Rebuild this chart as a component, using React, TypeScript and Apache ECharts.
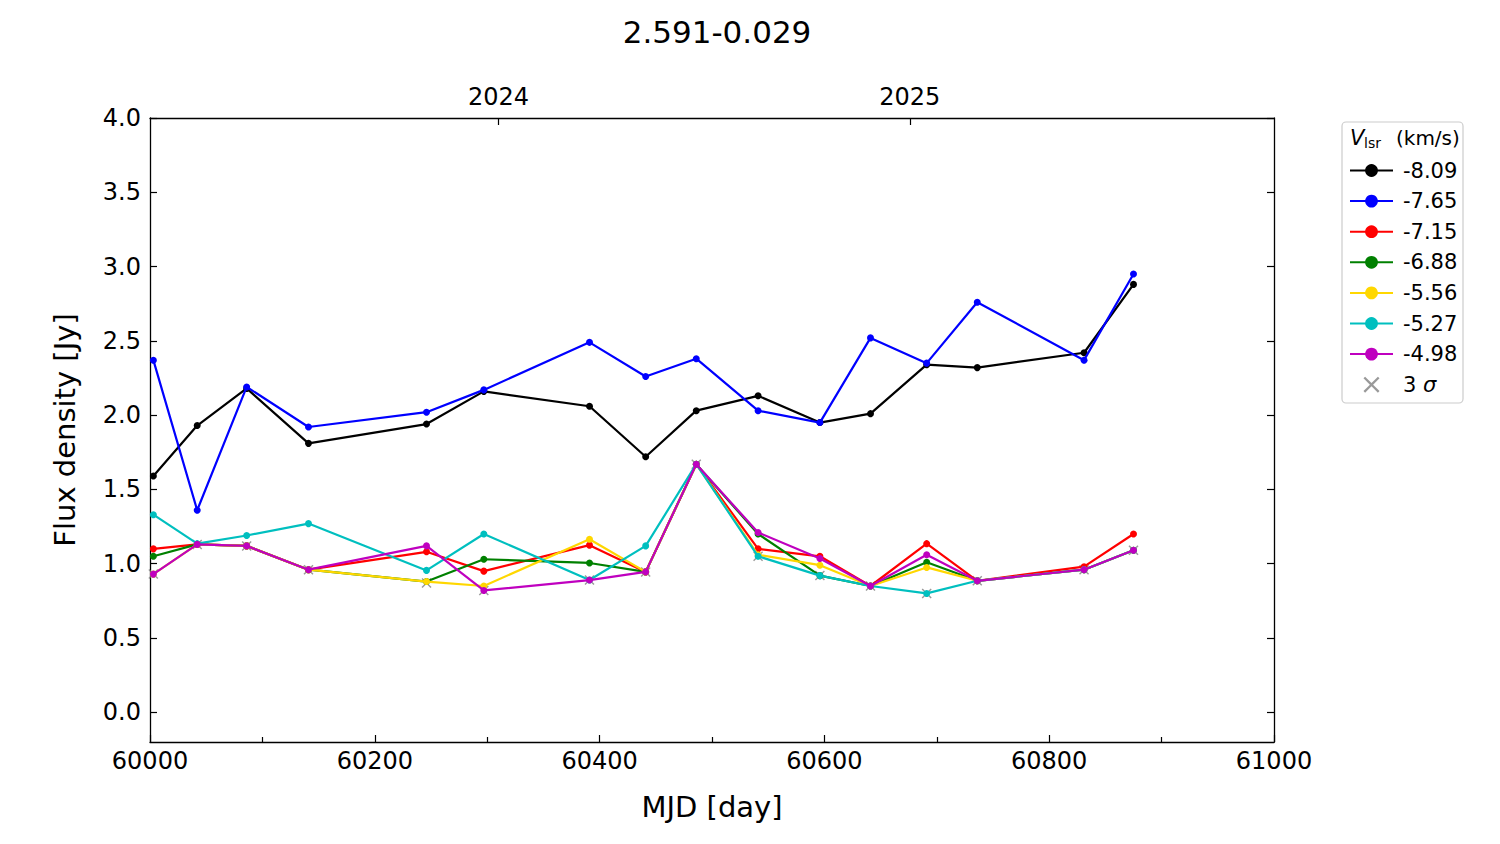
import React, { useEffect, useRef } from "react";
import * as echarts from "echarts";

const mjd = [60003, 60042, 60086, 60141, 60246, 60297, 60391, 60441, 60486, 60541, 60596, 60641, 60691, 60736, 60831, 60875];
const v809 = [1.59, 1.93, 2.18, 1.81, 1.94, 2.16, 2.06, 1.72, 2.03, 2.13, 1.95, 2.01, 2.34, 2.32, 2.42, 2.88];
const v765 = [2.37, 1.36, 2.19, 1.92, 2.02, 2.17, 2.49, 2.26, 2.38, 2.03, 1.95, 2.52, 2.35, 2.76, 2.37, 2.95];
const v715 = [1.10, 1.13, 1.12, 0.96, 1.08, 0.95, 1.125, 0.945, 1.67, 1.10, 1.05, 0.85, 1.135, 0.885, 0.98, 1.20];
const v688 = [1.05, 1.13, 1.12, 0.96, 0.88, 1.03, 1.005, 0.945, 1.67, 1.20, 0.92, 0.85, 1.01, 0.885, 0.96, 1.09];
const v556 = [0.93, 1.13, 1.12, 0.96, 0.88, 0.85, 1.165, 0.945, 1.67, 1.06, 0.99, 0.85, 0.975, 0.885, 0.96, 1.09];
const v527 = [1.33, 1.135, 1.19, 1.27, 0.955, 1.20, 0.89, 1.12, 1.67, 1.05, 0.92, 0.85, 0.80, 0.885, 0.96, 1.09];
const v498 = [0.93, 1.13, 1.12, 0.96, 1.12, 0.82, 0.89, 0.945, 1.67, 1.21, 1.035, 0.85, 1.06, 0.885, 0.96, 1.09];
const sigma3 = [0.93, 1.13, 1.12, 0.96, 0.87, 0.82, 0.89, 0.945, 1.67, 1.05, 0.92, 0.85, 0.80, 0.885, 0.96, 1.09];

const velocities = ["-8.09", "-7.65", "-7.15", "-6.88", "-5.56", "-5.27", "-4.98"];
const seriesValues = [v809, v765, v715, v688, v556, v527, v498];
const colors = ["#000000", "#0000ff", "#ff0000", "#008000", "#ffd700", "#00bfbf", "#bf00bf"];

const yTicks = [0, 0.5, 1, 1.5, 2, 2.5, 3, 3.5, 4];
const yearTicks = [60310, 60676];
const yearLabels = ["2024", "2025"];

const FONT = "DejaVu Sans";
const CROSS = "path://M1,0L5,4L9,0L10,1L6,5L10,9L9,10L5,6L1,10L0,9L4,5L0,1Z";

export default function App() {
  const ref = useRef<HTMLDivElement>(null);
  useEffect(() => {
    if (!ref.current) return;
    const chart = echarts.init(ref.current, null, { renderer: "svg" });
    const lineSeries = velocities.map((name, i) => ({
      name,
      type: "line",
      data: mjd.map((x, j) => [x, seriesValues[i][j]]),
      symbol: "circle",
      symbolSize: 7,
      z: 3 + i,
      lineStyle: { color: colors[i], width: 2.2 },
      itemStyle: { color: colors[i] },
    }));
    const axisLine = { show: true, onZero: false, lineStyle: { color: "#000", width: 1.3 } };
    const tickStyle = { color: "#000", width: 1.2 };
    const option: any = {
      animation: false,
      backgroundColor: "#ffffff",
      title: {
        text: "2.591-0.029",
        left: 712,
        top: 11,
        textAlign: "center",
        textStyle: { fontFamily: FONT, fontSize: 31, fontWeight: "normal", color: "#000" },
      },
      grid: { left: 150, top: 118, width: 1124, height: 624, containLabel: false },
      xAxis: [
        {
          type: "value",
          position: "bottom",
          min: 60000,
          max: 61000,
          interval: 200,
          name: "MJD [day]",
          nameLocation: "middle",
          nameGap: 50,
          nameTextStyle: { fontFamily: FONT, fontSize: 29, color: "#000" },
          axisLine,
          axisTick: { show: true, inside: true, length: 7, lineStyle: tickStyle },
          minorTick: { show: true, splitNumber: 2, length: 5, lineStyle: tickStyle },
          axisLabel: {
            fontFamily: FONT,
            fontSize: 24,
            color: "#000",
            margin: 7,
            formatter: (v: number) => String(v),
          },
          splitLine: { show: false },
          minorSplitLine: { show: false },
        },
        {
          type: "value",
          position: "top",
          min: 60000,
          max: 61000,
          axisLine,
          axisTick: { show: true, inside: true, length: 7, customValues: yearTicks, lineStyle: tickStyle },
          axisLabel: {
            fontFamily: FONT,
            fontSize: 24,
            color: "#000",
            margin: 9,
            customValues: yearTicks,
            formatter: (v: number) => yearLabels[yearTicks.indexOf(v)] ?? "",
          },
          splitLine: { show: false },
        },
      ],
      yAxis: [
        {
          type: "value",
          position: "left",
          min: -0.2,
          max: 4.0,
          name: "Flux density [Jy]",
          nameLocation: "middle",
          nameGap: 71,
          nameTextStyle: { fontFamily: FONT, fontSize: 29, color: "#000" },
          axisLine,
          axisTick: { show: true, inside: true, length: 7, customValues: yTicks, lineStyle: tickStyle },
          axisLabel: {
            fontFamily: FONT,
            fontSize: 24,
            color: "#000",
            margin: 9,
            customValues: yTicks,
            formatter: (v: number) => v.toFixed(1),
          },
          splitLine: { show: false },
        },
        {
          type: "value",
          position: "right",
          min: -0.2,
          max: 4.0,
          axisLine,
          axisTick: { show: true, inside: true, length: 7, customValues: yTicks, lineStyle: tickStyle },
          axisLabel: { show: false },
          splitLine: { show: false },
        },
      ],
      legend: {
        orient: "vertical",
        left: 1349,
        top: 160,
        padding: 0,
        itemWidth: 43,
        itemHeight: 16,
        itemGap: 9.6,
        data: [...velocities, "3 σ"],
        textStyle: {
          fontFamily: FONT,
          fontSize: 21,
          color: "#000",
          padding: [0, 0, 0, 5],
          rich: { i: { fontFamily: FONT, fontSize: 21, fontStyle: "italic", color: "#000" } },
        },
        formatter: (name: string) => (name === "3 σ" ? "3 {i|σ}" : name),
      },
      graphic: [
        {
          type: "rect",
          shape: { x: 1342, y: 122, width: 121, height: 281, r: 4 },
          style: { fill: "rgba(255,255,255,0.8)", stroke: "#cccccc", lineWidth: 1.2 },
          z: -1,
        },
        {
          type: "text",
          x: 1350,
          y: 138,
          style: { text: "V", fontFamily: FONT, fontSize: 21, fontStyle: "italic", fill: "#000", verticalAlign: "middle" },
        },
        {
          type: "text",
          x: 1364,
          y: 143,
          style: { text: "lsr", fontFamily: FONT, fontSize: 14, fill: "#000", verticalAlign: "middle" },
        },
        {
          type: "text",
          x: 1396,
          y: 138,
          style: { text: "(km/s)", fontFamily: FONT, fontSize: 20, fill: "#000", verticalAlign: "middle" },
        },
      ],
      series: [
        {
          name: "3 σ",
          type: "scatter",
          data: mjd.map((x, j) => [x, sigma3[j]]),
          symbol: CROSS,
          symbolSize: 10,
          z: 2,
          itemStyle: { color: "#808080" },
        },
        ...lineSeries,
      ],
    };
    chart.setOption(option);
    return () => chart.dispose();
  }, []);
  return (
    <div
      ref={ref}
      style={{ position: "fixed", left: 0, top: 0, width: 1500, height: 844, background: "#fff" }}
    />
  );
}
